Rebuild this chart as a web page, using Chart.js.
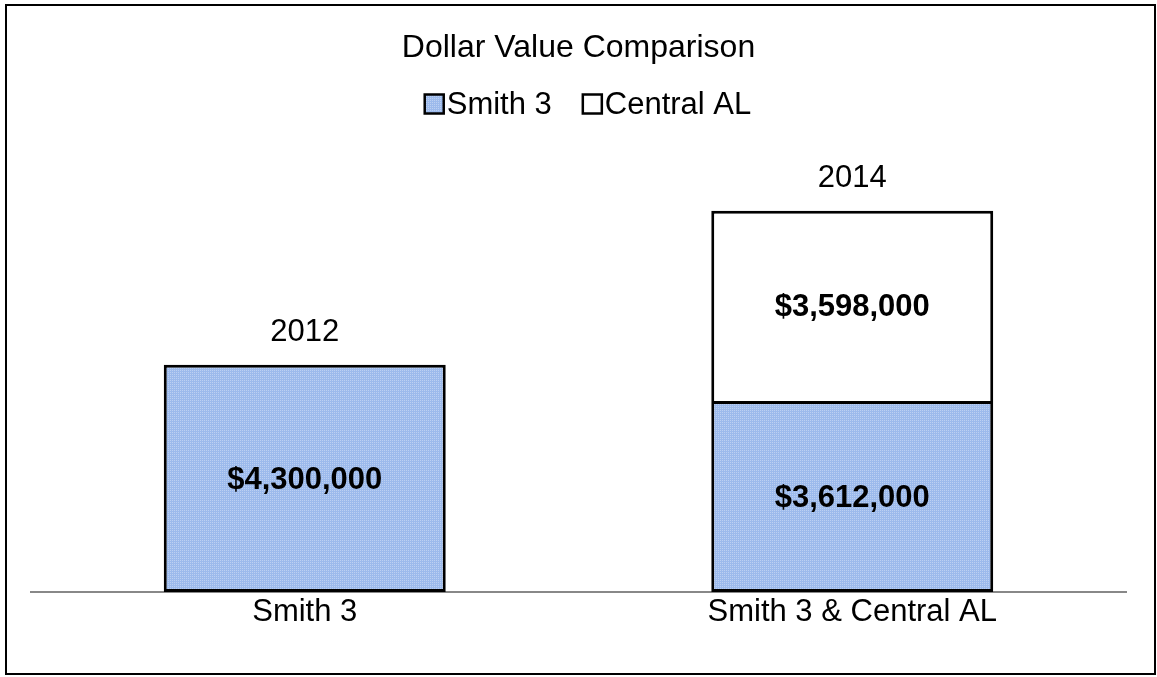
<!DOCTYPE html>
<html>
<head>
<meta charset="utf-8">
<script src="https://cdn.jsdelivr.net/npm/chart.js@4"></script>
<style>
  html, body { margin: 0; padding: 0; background: #fff; }
  #wrap { width: 1157px; height: 677px; position: relative; }
</style>
</head>
<body>
<div id="wrap"><canvas id="myChart"></canvas></div>
<script>
const categories = ['Smith 3', 'Smith 3 & Central AL'];
const years = ['2012', '2014'];
const smith3 = [4300000, 3612000];
const centralAL = [null, 3598000];

const FONT = '"Liberation Sans", Arial, sans-serif';

// dotted blue fill like the Excel pattern (kept low-contrast)
function makePattern() {
    const c = document.createElement('canvas');
    c.width = 2; c.height = 2;
    const g = c.getContext('2d');
    g.fillStyle = '#9cbaec';
    g.fillRect(0, 0, 2, 2);
    g.fillStyle = '#bcd0f2';
    g.fillRect(0, 0, 1, 1);
    return g.createPattern(c, 'repeat');
}

const money = v => '$' + v.toLocaleString('en-US');

const labelsPlugin = {
    id: 'labels',
    afterDraw(chart) {
        const ctx = chart.ctx;
        ctx.save();
        ctx.textAlign = 'center';
        ctx.textBaseline = 'middle';
        ctx.fillStyle = '#000';
        // values inside the bars
        ctx.font = 'bold 31px ' + FONT;
        chart.data.datasets.forEach((ds, di) => {
            chart.getDatasetMeta(di).data.forEach((bar, i) => {
                if (ds.data[i] == null) return;
                const p = bar.getProps(['x', 'y', 'base'], true);
                ctx.fillText(money(ds.data[i]), p.x, (p.y + p.base) / 2 + 2);
            });
        });
        // year above each stack
        ctx.font = '31px ' + FONT;
        const y = chart.scales.y;
        years.forEach((yr, i) => {
            const total = (smith3[i] || 0) + (centralAL[i] || 0);
            const x = chart.getDatasetMeta(0).data[i].x;
            ctx.fillText(yr, x, y.getPixelForValue(total) - 32);
        });

        // legend, drawn by hand to get Excel's tight box/text spacing
        ctx.textAlign = 'left';
        const box = 19, gapIn = 3, gapOut = 31;
        const items = chart.data.datasets.map(ds => ({
            text: ds.label, fill: ds.backgroundColor, w: ctx.measureText(ds.label).width
        }));
        let total = 0;
        items.forEach((it, i) => { total += box + gapIn + it.w + (i ? gapOut : 0); });
        let lx = 588 - total / 2;
        const ly = 104;
        items.forEach(it => {
            ctx.fillStyle = it.fill;
            ctx.fillRect(lx, ly - box / 2, box, box);
            ctx.strokeStyle = '#000';
            ctx.lineWidth = 2.5;
            ctx.strokeRect(lx, ly - box / 2, box, box);
            ctx.fillStyle = '#000';
            ctx.fillText(it.text, lx + box + gapIn, ly + 1);
            lx += box + gapIn + it.w + gapOut;
        });

        // outer frame
        ctx.strokeStyle = '#000';
        ctx.lineWidth = 2;
        ctx.strokeRect(6, 5, 1149, 669);
        ctx.restore();
    }
};

const fill = makePattern();

new Chart(document.getElementById('myChart').getContext('2d'), {
    type: 'bar',
    data: {
        labels: categories,
        datasets: [{
            label: 'Smith 3',
            data: smith3,
            backgroundColor: fill,
            borderColor: '#000',
            borderWidth: 3,
            borderSkipped: false
        }, {
            label: 'Central AL',
            data: centralAL,
            backgroundColor: '#fff',
            borderColor: '#000',
            borderWidth: 3,
            borderSkipped: 'bottom'
        }]
    },
    options: {
        responsive: true,
        maintainAspectRatio: false,
        animation: false,
        layout: { padding: { left: 31, right: 31, top: 20, bottom: 0 } },
        datasets: { bar: { categoryPercentage: 1, barPercentage: 0.515 } },
        plugins: {
            title: {
                display: true,
                text: 'Dollar Value Comparison',
                color: '#000',
                font: { family: FONT, size: 32, weight: 'normal' },
                padding: { top: 9, bottom: 62 }
            },
            legend: { display: false },
            tooltip: { enabled: false }
        },
        scales: {
            x: {
                stacked: true,
                grid: { display: false },
                border: { color: '#888', width: 2 },
                ticks: {
                    color: '#000',
                    padding: -6,
                    font: { family: FONT, size: 31 }
                },
                afterFit(scale) { scale.height = 85; }
            },
            y: {
                stacked: true,
                display: false,
                min: 0,
                max: 8750000
            }
        }
    },
    plugins: [labelsPlugin]
});
</script>
</body>
</html>
